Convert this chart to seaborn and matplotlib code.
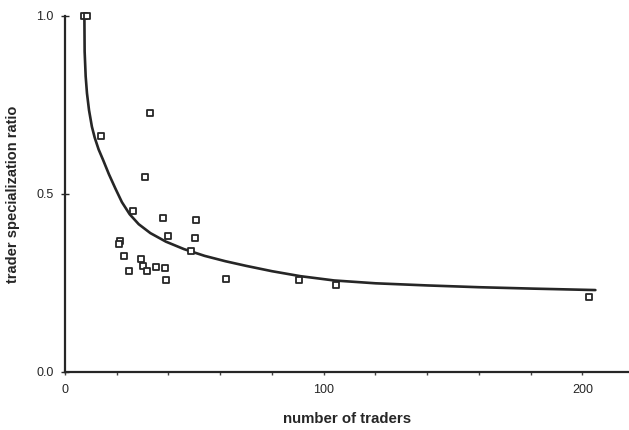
import matplotlib
matplotlib.use("Agg")
import matplotlib.pyplot as plt
from matplotlib.ticker import MultipleLocator
import seaborn as sns
import pandas as pd

# observed markets: number of traders vs. specialization ratio
n_traders = [7.3, 8.5, 13.9, 32.8, 30.9, 26.3, 37.8, 50.6, 21.2, 20.8, 39.8, 50.2,
             22.8, 48.6, 29.3, 30.1, 31.6, 35.1, 38.6, 24.7, 39.0, 62.2, 90.3, 104.6, 202.7]
spec_ratio = [1.0, 1.0, 0.663, 0.727, 0.548, 0.452, 0.432, 0.427, 0.368, 0.360, 0.382, 0.376,
              0.326, 0.340, 0.317, 0.298, 0.284, 0.295, 0.292, 0.284, 0.258, 0.261, 0.258, 0.244, 0.211]

# fitted curve
curve_x = [7.5, 7.6, 8.0, 8.5, 9.3, 10.4, 11.5, 13.0, 14.7, 17.0, 19.5, 22.0, 25.0, 28.5,
           33.0, 39.0, 46.0, 54.0, 62.0, 70.0, 80.0, 91.0, 104.0, 120.0, 140.0, 160.0, 181.0, 205.0]
curve_y = [1.0, 0.90, 0.83, 0.783, 0.735, 0.689, 0.658, 0.625, 0.596, 0.555, 0.515, 0.477, 0.443, 0.415,
           0.390, 0.366, 0.345, 0.326, 0.311, 0.298, 0.283, 0.269, 0.257, 0.249, 0.243, 0.238, 0.234, 0.230]

pts = pd.DataFrame({'traders': n_traders, 'ratio': spec_ratio})
fit = pd.DataFrame({'traders': curve_x, 'ratio': curve_y})

sns.set_style("ticks")
plt.rcParams['font.family'] = ['Liberation Sans', 'DejaVu Sans']

fig = plt.figure(figsize=(6.29, 4.30), dpi=100)
ax = fig.add_axes([0.1033, 0.135, 0.8967, 0.828])

sns.lineplot(data=fit, x='traders', y='ratio', ax=ax, color='#262626',
             linewidth=1.9, sort=False, estimator=None, clip_on=False)
sns.scatterplot(data=pts, x='traders', y='ratio', ax=ax, marker='s', s=18,
                facecolor='white', edgecolor='#262626', linewidth=1.3,
                clip_on=False, zorder=3)

ax.set_xlim(0, 218)
ax.set_ylim(0, 1.0)
ax.set_xticks([0, 100, 200])
ax.xaxis.set_minor_locator(MultipleLocator(20))
ax.set_yticks([0.0, 0.5, 1.0])
ax.set_yticklabels(['0.0', '0.5', '1.0'])

sns.despine(ax=ax)
for s in ['left', 'bottom']:
    ax.spines[s].set_linewidth(1.6)
    ax.spines[s].set_color('#262626')

ax.tick_params(axis='x', which='both', direction='out', length=2.5, width=1.0,
               color='#444444', labelsize=9, pad=6)
ax.tick_params(axis='y', direction='inout', length=6, width=1.0,
               color='#262626', labelsize=9, pad=5)

ax.set_xlabel('number of traders', fontsize=10.8, fontweight='bold', labelpad=12)
ax.set_ylabel('trader specialization ratio', fontsize=10.5, fontweight='bold', labelpad=12)

plt.savefig('out.png', dpi=100)
